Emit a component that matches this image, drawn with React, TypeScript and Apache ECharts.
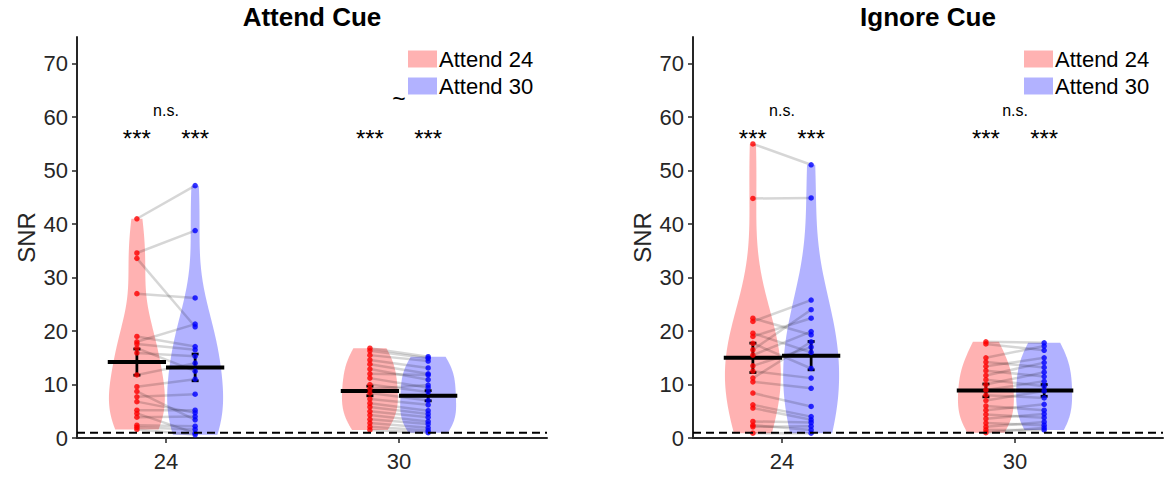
import React, { useEffect, useRef } from 'react';
import * as echarts from 'echarts';

const panelTitles = ['Attend Cue', 'Ignore Cue'];
const groupLabels = ['24', '30'];
const conditionNames = ['Attend 24', 'Attend 30'];
const yTickValues = [0, 10, 20, 30, 40, 50, 60, 70];

// SNR per subject (same subject order in every array of a panel)
const attendCueAtt24At24 = [41.0, 34.6, 33.6, 27.0, 19.0, 18.0, 17.6, 16.8, 15.9, 11.8, 9.6, 8.7, 7.7, 6.8, 5.2, 4.6, 3.9, 2.4, 2.0, 1.6];
const attendCueAtt30At24 = [47.2, 38.8, 20.8, 26.2, 17.1, 21.3, 16.5, 12.5, 15.3, 14.0, 11.0, 3.4, 8.2, 4.7, 5.2, 0.9, 4.0, 2.2, 1.6, 0.6];
const attendCueAtt24At30 = [16.8, 16.3, 15.5, 14.6, 13.8, 12.9, 12.0, 11.2, 10.0, 9.2, 8.4, 7.3, 6.5, 5.8, 5.0, 4.3, 3.5, 2.8, 2.1, 1.5];
const attendCueAtt30At30 = [15.2, 14.9, 14.4, 13.1, 12.0, 10.9, 11.8, 9.4, 8.6, 9.9, 7.0, 6.2, 5.1, 4.5, 3.9, 3.1, 2.6, 1.9, 1.4, 1.0];
const ignoreCueAtt24At24 = [55.0, 44.8, 22.4, 21.8, 19.6, 19.0, 17.7, 16.5, 15.5, 13.5, 12.5, 11.2, 10.5, 8.4, 6.2, 5.6, 3.1, 2.4, 2.1, 0.9];
const ignoreCueAtt30At24 = [51.1, 44.9, 19.3, 25.8, 16.0, 22.4, 13.0, 24.0, 19.9, 17.0, 11.2, 18.0, 9.3, 5.9, 4.0, 3.4, 2.9, 1.5, 2.2, 0.9];
const ignoreCueAtt24At30 = [18.0, 17.6, 15.0, 14.2, 13.4, 12.6, 11.7, 10.9, 10.0, 9.0, 8.0, 7.0, 6.0, 5.2, 4.4, 3.6, 2.8, 2.1, 1.5, 1.0];
const ignoreCueAtt30At30 = [17.8, 16.4, 17.2, 13.2, 15.0, 11.5, 14.1, 9.7, 12.3, 10.6, 7.5, 8.8, 5.2, 6.3, 3.8, 4.5, 2.4, 3.0, 1.5, 1.9];

// mean and SEM: [24/Attend 24, 24/Attend 30, 30/Attend 24, 30/Attend 30]
const attendCueMeans = [14.2, 13.2, 8.8, 7.9];
const attendCueSems = [2.45, 2.5, 0.9, 0.95];
const ignoreCueMeans = [15.0, 15.4, 8.9, 8.9];
const ignoreCueSems = [2.75, 2.65, 1.2, 1.1];

// significance marks: one per violin, one per pair
const attendCueStars = ['***', '***', '***', '***'];
const attendCuePairMarks = ['n.s.', '~'];
const ignoreCueStars = ['***', '***', '***', '***'];
const ignoreCuePairMarks = ['n.s.', 'n.s.'];

const chanceLevel = 1;

const FONT = '"Liberation Sans", Arial, Helvetica, sans-serif';
const RED = '#ff0000';
const BLUE = '#0000ff';
const RED_FILL = 'rgba(255,0,0,0.3)';
const BLUE_FILL = 'rgba(0,0,255,0.3)';
const X_MIN = 0.618;
const X_MAX = 2.635;
const OFFSET = 0.125;
const VIOLIN_HALF = 0.12;
const MEAN_HALF = 0.125;
// kernel bandwidth multipliers [panel][group][condition]
const BW_SCALES = [
  [
    [1, 1],
    [1, 1],
  ],
  [
    [1.6, 1.25],
    [1, 1],
  ],
];

function median(a: number[]) {
  const s = [...a].sort((p, q) => p - q);
  const n = s.length;
  return n % 2 ? s[(n - 1) / 2] : (s[n / 2 - 1] + s[n / 2]) / 2;
}

function violinProfile(values: number[], bwScale: number) {
  const med = median(values);
  const sig = median(values.map((v) => Math.abs(v - med))) / 0.6745;
  const bw = sig * Math.pow(4 / (3 * values.length), 0.2) * bwScale;
  const lo = Math.min(...values);
  const hi = Math.max(...values);
  const steps = 120;
  const pts: number[][] = [];
  for (let i = 0; i <= steps; i++) {
    const y = lo + ((hi - lo) * i) / steps;
    let d = 0;
    for (const v of values) {
      const z = (y - v) / bw;
      d += Math.exp(-0.5 * z * z);
    }
    pts.push([y, d]);
  }
  const mx = Math.max(...pts.map((p) => p[1]));
  return pts.map(([y, d]) => [y, d / mx]);
}

type Panel = {
  title: string;
  groups: number[][][];
  means: number[];
  sems: number[];
  stars: string[];
  pairMarks: string[];
};

const panels: Panel[] = [
  {
    title: panelTitles[0],
    groups: [
      [attendCueAtt24At24, attendCueAtt30At24],
      [attendCueAtt24At30, attendCueAtt30At30],
    ],
    means: attendCueMeans,
    sems: attendCueSems,
    stars: attendCueStars,
    pairMarks: attendCuePairMarks,
  },
  {
    title: panelTitles[1],
    groups: [
      [ignoreCueAtt24At24, ignoreCueAtt30At24],
      [ignoreCueAtt24At30, ignoreCueAtt30At30],
    ],
    means: ignoreCueMeans,
    sems: ignoreCueSems,
    stars: ignoreCueStars,
    pairMarks: ignoreCuePairMarks,
  },
];

const GRID_LEFTS = [77, 693];
const GRID_TOP = 37;
const GRID_W = 470;
const GRID_H = 401;

function buildOption() {
  const grids: any[] = [];
  const xAxes: any[] = [];
  const yAxes: any[] = [];
  const titles: any[] = [];
  const legends: any[] = [];
  const series: any[] = [];

  panels.forEach((panel, pi) => {
    grids.push({ left: GRID_LEFTS[pi], top: GRID_TOP, width: GRID_W, height: GRID_H, containLabel: false });
    xAxes.push({
      type: 'value',
      gridIndex: pi,
      min: X_MIN,
      max: X_MAX,
      splitLine: { show: false },
      axisLine: { show: true, onZero: false, lineStyle: { color: '#262626', width: 2 } },
      axisTick: { show: true, inside: false, length: 5, customValues: [1, 2], lineStyle: { color: '#262626', width: 1.5 } },
      axisLabel: {
        customValues: [1, 2],
        formatter: (v: number) => groupLabels[Math.round(v) - 1],
        fontSize: 22,
        fontFamily: FONT,
        color: '#262626',
        margin: 12,
      },
    });
    yAxes.push({
      type: 'value',
      gridIndex: pi,
      min: 0,
      max: 75,
      interval: 10,
      name: 'SNR',
      nameLocation: 'middle',
      nameGap: 39,
      nameTextStyle: { fontSize: 24, fontFamily: FONT, color: '#262626' },
      splitLine: { show: false },
      axisLine: { show: true, onZero: false, lineStyle: { color: '#262626', width: 2 } },
      axisTick: { show: true, inside: false, length: 5, customValues: yTickValues, lineStyle: { color: '#262626', width: 1.5 } },
      axisLabel: { customValues: yTickValues, fontSize: 22, fontFamily: FONT, color: '#262626', margin: 9 },
    });
    titles.push({
      text: panel.title,
      left: GRID_LEFTS[pi] + GRID_W / 2,
      textAlign: 'center',
      top: 4,
      padding: 0,
      textStyle: { fontSize: 26, fontWeight: 'bold', fontFamily: FONT, color: '#000' },
    });
    legends.push({
      left: GRID_LEFTS[pi] + 331,
      top: 48,
      orient: 'vertical',
      itemWidth: 29,
      itemHeight: 17,
      itemGap: 5,
      padding: 0,
      icon: 'rect',
      textStyle: { fontSize: 22, fontFamily: FONT, color: '#000', padding: [0, 0, 0, -3] },
      data: [
        { name: conditionNames[0], itemStyle: { color: RED_FILL } },
        { name: conditionNames[1], itemStyle: { color: BLUE_FILL } },
      ],
    });

    // violins
    [0, 1].forEach((ci) => {
      const profiles = panel.groups.map((g, gi) => violinProfile(g[ci], BW_SCALES[pi][gi][ci]));
      const sign = ci === 0 ? -1 : 1;
      series.push({
        type: 'custom',
        name: conditionNames[ci],
        xAxisIndex: pi,
        yAxisIndex: pi,
        itemStyle: { color: ci === 0 ? RED_FILL : BLUE_FILL },
        data: panel.groups.map((g, gi) => [gi + 1 + sign * OFFSET, Math.min(...g[ci])]),
        encode: { x: 0, y: 1 },
        renderItem: (params: any, api: any) => {
          const prof = profiles[params.dataIndex];
          const xc = api.value(0);
          const left = prof.map(([y, w]) => api.coord([xc - w * VIOLIN_HALF, y]));
          const right = prof
            .slice()
            .reverse()
            .map(([y, w]) => api.coord([xc + w * VIOLIN_HALF, y]));
          return {
            type: 'polygon',
            shape: { points: left.concat(right) },
            style: { fill: ci === 0 ? RED_FILL : BLUE_FILL, stroke: null },
          };
        },
      });
    });

    // paired subject lines
    const pairData: number[][] = [];
    panel.groups.forEach((g, gi) => {
      g[0].forEach((v, si) => {
        pairData.push([gi + 1 - OFFSET, v, gi + 1 + OFFSET, g[1][si]]);
      });
    });
    series.push({
      type: 'custom',
      name: 'pairs',
      xAxisIndex: pi,
      yAxisIndex: pi,
      data: pairData,
      encode: { x: [0, 2], y: [1, 3] },
      renderItem: (params: any, api: any) => {
        const a = api.coord([api.value(0), api.value(1)]);
        const b = api.coord([api.value(2), api.value(3)]);
        return {
          type: 'line',
          shape: { x1: a[0], y1: a[1], x2: b[0], y2: b[1] },
          style: { stroke: 'rgba(0,0,0,0.16)', lineWidth: 2.5 },
        };
      },
    });

    // chance level
    series.push({
      type: 'line',
      name: 'chance',
      xAxisIndex: pi,
      yAxisIndex: pi,
      data: [
        [X_MIN, chanceLevel],
        [X_MAX, chanceLevel],
      ],
      symbol: 'none',
      silent: true,
      lineStyle: { color: '#000', width: 2, type: [8, 5] },
    });

    // subject dots
    [0, 1].forEach((ci) => {
      const sign = ci === 0 ? -1 : 1;
      const pts: number[][] = [];
      panel.groups.forEach((g, gi) => g[ci].forEach((v) => pts.push([gi + 1 + sign * OFFSET, v])));
      series.push({
        type: 'scatter',
        name: conditionNames[ci] + ' subjects',
        xAxisIndex: pi,
        yAxisIndex: pi,
        data: pts,
        symbol: 'circle',
        symbolSize: 5.5,
        itemStyle: { color: ci === 0 ? RED : BLUE },
      });
    });

    // mean ± SEM
    const meanData = panel.means.map((m, k) => {
      const gi = Math.floor(k / 2);
      const ci = k % 2;
      return [gi + 1 + (ci === 0 ? -OFFSET : OFFSET), m, panel.sems[k]];
    });
    series.push({
      type: 'custom',
      name: 'mean',
      xAxisIndex: pi,
      yAxisIndex: pi,
      data: meanData,
      encode: { x: 0, y: 1 },
      renderItem: (params: any, api: any) => {
        const xc = api.value(0);
        const m = api.value(1);
        const s = api.value(2);
        const pl = api.coord([xc - MEAN_HALF, m]);
        const pr = api.coord([xc + MEAN_HALF, m]);
        const pt = api.coord([xc, m + s]);
        const pb = api.coord([xc, m - s]);
        const st = { stroke: '#000', lineWidth: 2.75 };
        return {
          type: 'group',
          children: [
            { type: 'line', shape: { x1: pl[0], y1: pl[1], x2: pr[0], y2: pr[1] }, style: { stroke: '#000', lineWidth: 4 } },
            { type: 'line', shape: { x1: pt[0], y1: pt[1], x2: pb[0], y2: pb[1] }, style: st },
            { type: 'line', shape: { x1: pt[0] - 3.5, y1: pt[1], x2: pt[0] + 3.5, y2: pt[1] }, style: st },
            { type: 'line', shape: { x1: pb[0] - 3.5, y1: pb[1], x2: pb[0] + 3.5, y2: pb[1] }, style: st },
          ],
        };
      },
    });

    // significance marks
    const markData: number[][] = [];
    const markText: string[] = [];
    const markSize: number[] = [];
    panel.stars.forEach((t, k) => {
      const gi = Math.floor(k / 2);
      const ci = k % 2;
      markData.push([gi + 1 + (ci === 0 ? -OFFSET : OFFSET), 56]);
      markText.push(t);
      markSize.push(24);
    });
    panel.pairMarks.forEach((t, gi) => {
      markData.push([gi + 1, t === '~' ? 63.4 : 61.25]);
      markText.push(t);
      markSize.push(t === '~' ? 23 : 16);
    });
    series.push({
      type: 'custom',
      name: 'marks',
      xAxisIndex: pi,
      yAxisIndex: pi,
      data: markData,
      encode: { x: 0, y: 1 },
      renderItem: (params: any, api: any) => {
        const p = api.coord([api.value(0), api.value(1)]);
        return {
          type: 'text',
          x: p[0],
          y: p[1],
          style: {
            text: markText[params.dataIndex],
            fontSize: markSize[params.dataIndex],
            fontFamily: FONT,
            fill: '#000',
            align: 'center',
            verticalAlign: 'middle',
          },
        };
      },
    });
  });

  return {
    animation: false,
    backgroundColor: '#ffffff',
    title: titles,
    legend: legends,
    grid: grids,
    xAxis: xAxes,
    yAxis: yAxes,
    series,
  };
}

export default function App() {
  const ref = useRef<HTMLDivElement>(null);
  useEffect(() => {
    if (!ref.current) return;
    const chart = echarts.init(ref.current, undefined, { renderer: 'svg' });
    chart.setOption(buildOption() as any);
    return () => chart.dispose();
  }, []);
  return (
    <div
      ref={ref}
      style={{ position: 'fixed', left: 0, top: 0, width: 1165, height: 481, background: '#fff' }}
    />
  );
}
